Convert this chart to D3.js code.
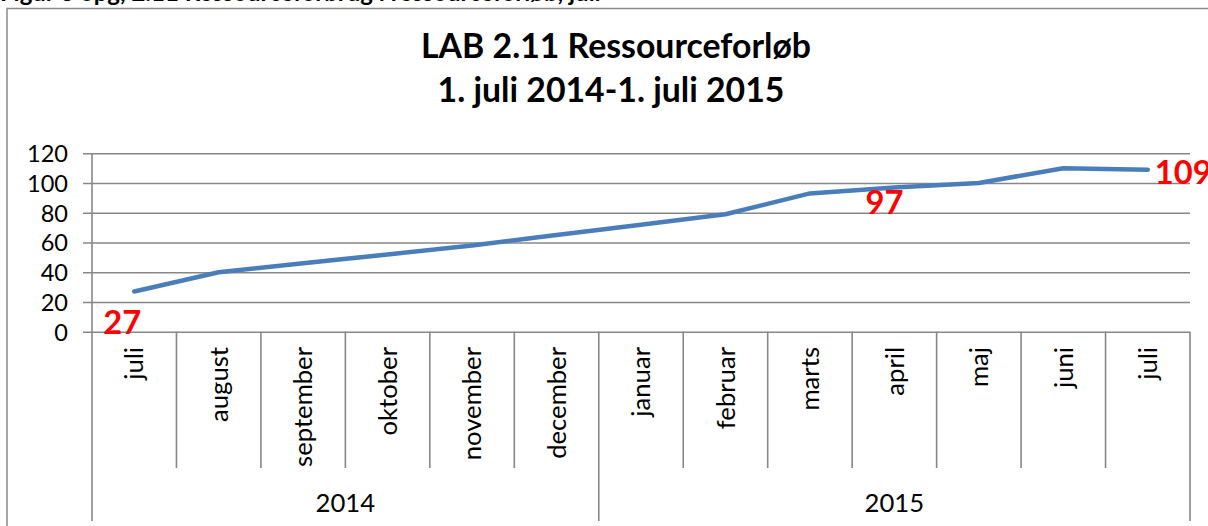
<!DOCTYPE html>
<html>
<head>
<meta charset="utf-8">
<script src="https://cdn.jsdelivr.net/npm/d3@7"></script>
<style>
  html, body { margin: 0; padding: 0; background: #fff; }
  svg { display: block; }
  text { font-family: Lato, "Open Sans", sans-serif; }
</style>
</head>
<body>
<svg id="chart" width="1208" height="526"></svg>
<script>
// ---- data ----
const months = ["juli","august","september","oktober","november","december",
                "januar","februar","marts","april","maj","juni","juli"];
const years = ["2014","2015"];
const yearSpans = [6, 7];               // number of months under each year
const values = [27, 40, 46, 52, 58, 65, 72, 79, 93, 97, 100, 110, 109];
const yTicks = [0, 20, 40, 60, 80, 100, 120];
const labelledIdx = [0, 9, 12];          // points with red data labels
const titleLines = ["LAB 2.11 Ressourceforløb", "1. juli 2014-1. juli 2015"];
const captionText = "Figur 3 opg, 2.11 Ressourceforbrug i ressourceforløb, juli";

// ---- layout ----
const W = 1208, H = 526;
const plotL = 92, plotR = 1190, plotT = 153.3, plotB = 331.7;
const sepBottom = 468, yearBottom = 521;
const gridCol = "#878787";

const svg = d3.select("#chart");
svg.append("rect").attr("width", W).attr("height", H).attr("fill", "#fff");

function fit(sel, target) {
  const base = 30;
  sel.style("font-size", base + "px");
  const w = sel.node().getComputedTextLength();
  const fs = base * target / w;
  sel.style("font-size", fs + "px");
  return fs;
}

// caption cut off at top (as in the reference)
svg.append("text").attr("x", 0).attr("y", 1)
  .style("font-weight", "bold").style("font-size", "24px")
  .attr("fill", "#000").text(captionText);

// chart border
svg.append("path")
  .attr("d", `M7,${H+2}V8.5H${W+2}`)
  .attr("fill", "none").attr("stroke", "#8a8a8a").attr("stroke-width", 1.5);

// title
const t1 = svg.append("text").attr("x", 616).attr("y", 58)
  .attr("text-anchor", "middle").style("font-weight", "bold").attr("fill", "#000")
  .text(titleLines[0]);
const tfs = fit(t1, 390);
svg.append("text").attr("x", 611).attr("y", 102)
  .attr("text-anchor", "middle").style("font-weight", "bold").attr("fill", "#000")
  .style("font-size", tfs + "px").text(titleLines[1]);

// scales
const x = d3.scaleBand().domain(d3.range(months.length)).range([plotL, plotR]).padding(0);
const y = d3.scaleLinear().domain([0, 120]).range([plotB, plotT]);

// y axis with gridlines
const yAxis = d3.axisLeft(y).tickValues(yTicks).tickSize(-(plotR - 83)).tickPadding(15);
const gy = svg.append("g").attr("transform", "translate(83,0)").call(yAxis);
gy.select(".domain").remove();
gy.selectAll(".tick line").attr("stroke", gridCol).attr("stroke-width", 1.6);
gy.selectAll(".tick text").attr("fill", "#000").style("font-family", "Lato, sans-serif");
{
  const sample = gy.selectAll(".tick text").filter(d => d === 120);
  const fs = fit(sample, 41);
  gy.selectAll(".tick text").style("font-size", fs + "px").attr("dy", "0.36em");
}

// category separators
const bounds = d3.range(months.length + 1).map(i => i < months.length ? x(i) : plotR);
let cum = 0;
const yearBounds = [0];
yearSpans.forEach(s => { cum += s; yearBounds.push(cum); });
svg.append("g").selectAll("line").data(d3.range(bounds.length)).join("line")
  .attr("x1", i => bounds[i]).attr("x2", i => bounds[i])
  .attr("y1", i => i === 0 ? plotT : plotB)
  .attr("y2", i => yearBounds.includes(i) ? yearBottom : sepBottom)
  .attr("stroke", gridCol).attr("stroke-width", 1.6);

// month labels (rotated)
const mLab = svg.append("g").selectAll("text").data(months).join("text")
  .attr("transform", (d, i) => `translate(${x(i) + x.bandwidth() / 2},347) rotate(-90)`)
  .attr("text-anchor", "end").attr("dy", "0.36em").attr("fill", "#000")
  .text(d => d);
const mfs = fit(mLab.filter(d => d === "september"), 120);
mLab.style("font-size", mfs + "px");

// year labels
svg.append("g").selectAll("text").data(years).join("text")
  .attr("x", (d, i) => (bounds[yearBounds[i]] + bounds[yearBounds[i + 1]]) / 2)
  .attr("y", 512).attr("text-anchor", "middle").attr("fill", "#000")
  .style("font-size", mfs + "px").text(d => d);

// line
const line = d3.line().x((d, i) => x(i) + x.bandwidth() / 2).y(d => y(d));
svg.append("path").datum(values).attr("d", line)
  .attr("fill", "none").attr("stroke", "#4A7EBB").attr("stroke-width", 4.5)
  .attr("stroke-linejoin", "round").attr("stroke-linecap", "round");

// data labels
const offsets = { 0: [-31, 42, "start"], 9: [-10, 27, "middle"], 12: [7, 14, "start"] };
const dl = svg.append("g").selectAll("text").data(labelledIdx).join("text")
  .attr("x", i => x(i) + x.bandwidth() / 2 + offsets[i][0])
  .attr("y", i => y(values[i]) + offsets[i][1])
  .attr("text-anchor", i => offsets[i][2])
  .attr("fill", "#ff0000").style("font-weight", "bold")
  .text(i => values[i]);
const dfs = fit(dl.filter(i => i === 9), 38);
dl.style("font-size", dfs + "px");
</script>
</body>
</html>
